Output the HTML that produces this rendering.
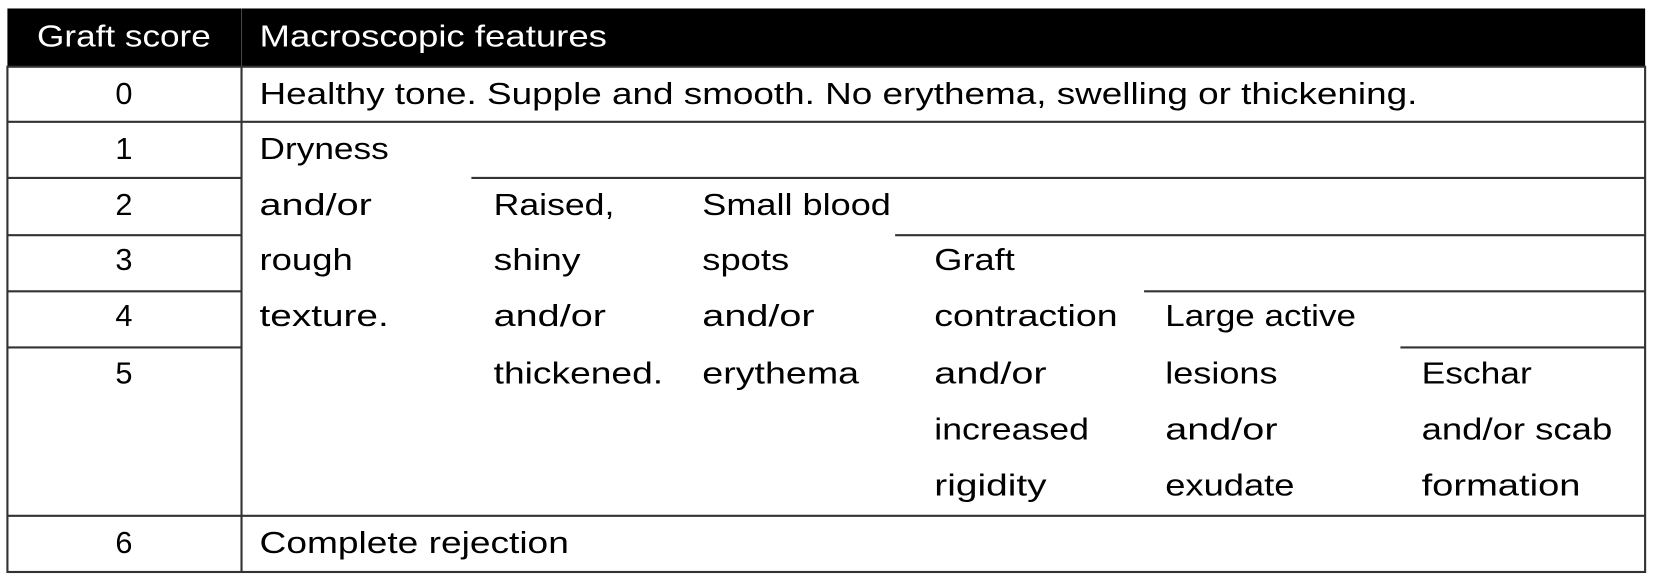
<!DOCTYPE html>
<html><head><meta charset="utf-8"><style>
html,body{margin:0;padding:0;background:#fff;width:1661px;height:583px;overflow:hidden}
svg text{font-family:"Liberation Sans",sans-serif;font-size:29px;fill:#000}
</style></head><body>
<svg width="1661" height="583" viewBox="0 0 1568 550.4" preserveAspectRatio="none">
<rect x="7" y="8" width="1546" height="55" fill="#000"/>
<rect x="7" y="63" width="1546" height="477" fill="none" stroke="#333" stroke-width="2"/>
<g stroke="#333" stroke-width="2">
<line x1="228" y1="63" x2="228" y2="540"/>
<line x1="7" y1="115" x2="1553" y2="115"/>
<line x1="7" y1="168" x2="228" y2="168"/>
<line x1="445" y1="168" x2="1553" y2="168"/>
<line x1="7" y1="222" x2="228" y2="222"/>
<line x1="845" y1="222" x2="1553" y2="222"/>
<line x1="7" y1="275" x2="228" y2="275"/>
<line x1="1080" y1="275" x2="1553" y2="275"/>
<line x1="7" y1="328" x2="228" y2="328"/>
<line x1="1322" y1="328" x2="1553" y2="328"/>
<line x1="7" y1="487" x2="1553" y2="487"/>
</g>
<line x1="228" y1="8" x2="228" y2="63" stroke="#444" stroke-width="1"/>
<text x="117" y="44" text-anchor="middle" style="fill:#fff" textLength="164" lengthAdjust="spacingAndGlyphs">Graft score</text>
<text x="245" y="44" style="fill:#fff" textLength="328" lengthAdjust="spacingAndGlyphs">Macroscopic features</text>
<g text-anchor="middle">
<text x="117" y="98">0</text><text x="117" y="150">1</text><text x="117" y="203">2</text><text x="117" y="255">3</text><text x="117" y="308">4</text><text x="117" y="362">5</text><text x="117" y="522">6</text>
</g>
<text x="245" y="98" textLength="1093" lengthAdjust="spacingAndGlyphs">Healthy tone. Supple and smooth. No erythema, swelling or thickening.</text>
<g>
<text x="245" y="150" textLength="122" lengthAdjust="spacingAndGlyphs">Dryness</text>
<text x="245" y="203" textLength="106" lengthAdjust="spacingAndGlyphs">and/or</text>
<text x="245" y="255" textLength="88" lengthAdjust="spacingAndGlyphs">rough</text>
<text x="245" y="308" textLength="122" lengthAdjust="spacingAndGlyphs">texture.</text>
</g>
<g>
<text x="466" y="203" textLength="114" lengthAdjust="spacingAndGlyphs">Raised,</text>
<text x="466" y="255" textLength="82" lengthAdjust="spacingAndGlyphs">shiny</text>
<text x="466" y="308" textLength="106" lengthAdjust="spacingAndGlyphs">and/or</text>
<text x="466" y="362" textLength="160" lengthAdjust="spacingAndGlyphs">thickened.</text>
</g>
<g>
<text x="663" y="203" textLength="178" lengthAdjust="spacingAndGlyphs">Small blood</text>
<text x="663" y="255" textLength="82" lengthAdjust="spacingAndGlyphs">spots</text>
<text x="663" y="308" textLength="106" lengthAdjust="spacingAndGlyphs">and/or</text>
<text x="663" y="362" textLength="148" lengthAdjust="spacingAndGlyphs">erythema</text>
</g>
<g>
<text x="882" y="255" textLength="76" lengthAdjust="spacingAndGlyphs">Graft</text>
<text x="882" y="308" textLength="173" lengthAdjust="spacingAndGlyphs">contraction</text>
<text x="882" y="362" textLength="106" lengthAdjust="spacingAndGlyphs">and/or</text>
<text x="882" y="415" textLength="146" lengthAdjust="spacingAndGlyphs">increased</text>
<text x="882" y="468" textLength="106" lengthAdjust="spacingAndGlyphs">rigidity</text>
</g>
<g>
<text x="1100" y="308" textLength="180" lengthAdjust="spacingAndGlyphs">Large active</text>
<text x="1100" y="362" textLength="106" lengthAdjust="spacingAndGlyphs">lesions</text>
<text x="1100" y="415" textLength="106" lengthAdjust="spacingAndGlyphs">and/or</text>
<text x="1100" y="468" textLength="122" lengthAdjust="spacingAndGlyphs">exudate</text>
</g>
<g>
<text x="1342" y="362" textLength="104" lengthAdjust="spacingAndGlyphs">Eschar</text>
<text x="1342" y="415" textLength="180" lengthAdjust="spacingAndGlyphs">and/or scab</text>
<text x="1342" y="468" textLength="150" lengthAdjust="spacingAndGlyphs">formation</text>
</g>
<text x="245" y="522" textLength="292" lengthAdjust="spacingAndGlyphs">Complete rejection</text>
</svg>
</body></html>
